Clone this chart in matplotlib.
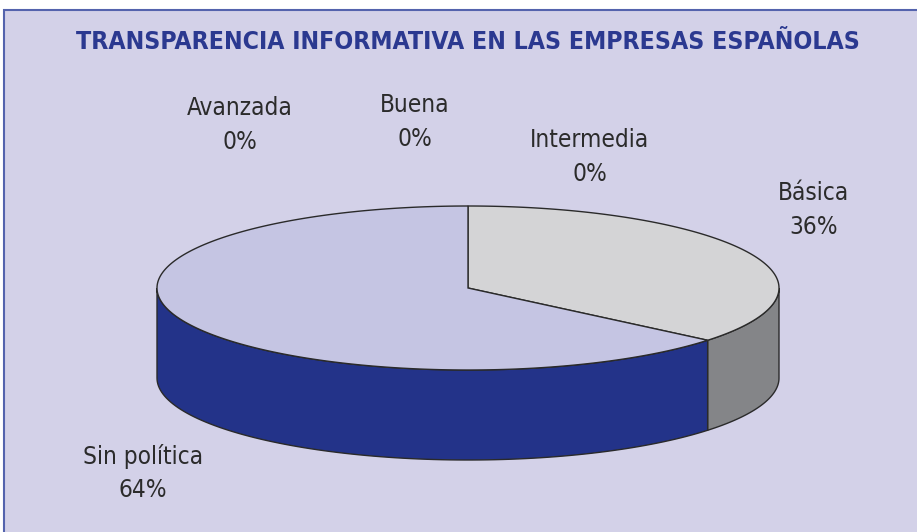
import numpy as np
import matplotlib
import matplotlib.pyplot as plt
from matplotlib.patches import Polygon, Rectangle

matplotlib.use('Agg')

# data
categories = ["Básica", "Sin política", "Avanzada", "Buena", "Intermedia"]
percents = [36, 64, 0, 0, 0]
top_colors = ["#d4d4d6", "#c5c5e3", "#c5c5e3", "#c5c5e3", "#c5c5e3"]
side_colors = ["#848588", "#233389", "#233389", "#233389", "#233389"]
title = "TRANSPARENCIA INFORMATIVA EN LAS EMPRESAS ESPAÑOLAS"

# layout (pixel coordinates)
label_pos = [(814, 210), (143, 473), (240, 125), (415, 122), (590, 157)]
cx, cy, a, b, depth = 468, 288, 311, 82, 90

fig = plt.figure(figsize=(9.17, 5.32), dpi=100)
ax = fig.add_axes([0, 0, 1, 1])
ax.set_xlim(0, 917)
ax.set_ylim(532, 0)
ax.axis('off')

ax.add_patch(Rectangle((4, 10), 940, 560, facecolor="#d3d1e8",
                       edgecolor="#5463ad", lw=1.5, zorder=0))


def ell(t, dy=0):
    t = np.radians(t)
    return np.column_stack([cx + a * np.cos(t), cy - b * np.sin(t) + dy])


# slice angles, clockwise from 12 o'clock
fr = np.array(percents) / sum(percents)
ends = 90 - 360 * np.cumsum(fr)
starts = np.concatenate([[90], ends[:-1]])

# side faces (front half only: 180..360 degrees)
for s, e, col, p in zip(starts, ends, side_colors, percents):
    if p == 0:
        continue
    lo, hi = e % 360, s % 360
    if hi <= lo:
        hi += 360
    for off in (0, 360):
        t1, t2 = max(lo, 180 + off), min(hi, 360 + off)
        if t2 > t1:
            tt = np.linspace(t1, t2, 100)
            pts = np.vstack([ell(tt), ell(tt[::-1], depth)])
            ax.add_patch(Polygon(pts, closed=True, facecolor=col,
                                 edgecolor="#2a2a2a", lw=1, zorder=2))

# top faces
for s, e, col, p in zip(starts, ends, top_colors, percents):
    if p == 0:
        continue
    tt = np.linspace(s, e, 200)
    pts = np.vstack([[cx, cy], ell(tt)])
    ax.add_patch(Polygon(pts, closed=True, facecolor=col,
                         edgecolor="#2a2a2a", lw=1, zorder=3))

for cat, p, (x, y) in zip(categories, percents, label_pos):
    ax.text(x, y, f"{cat}\n{p}%", ha='center', va='center', fontsize=17.5,
            color="#2b2b2b", linespacing=1.5, family='DejaVu Sans',
            fontstretch='condensed')

ax.text(468, 42, title, ha='center', va='center', fontsize=17.8,
        fontweight='bold', color="#2b3990", family='DejaVu Sans',
        fontstretch='condensed')

plt.savefig('out.png', dpi=100)
